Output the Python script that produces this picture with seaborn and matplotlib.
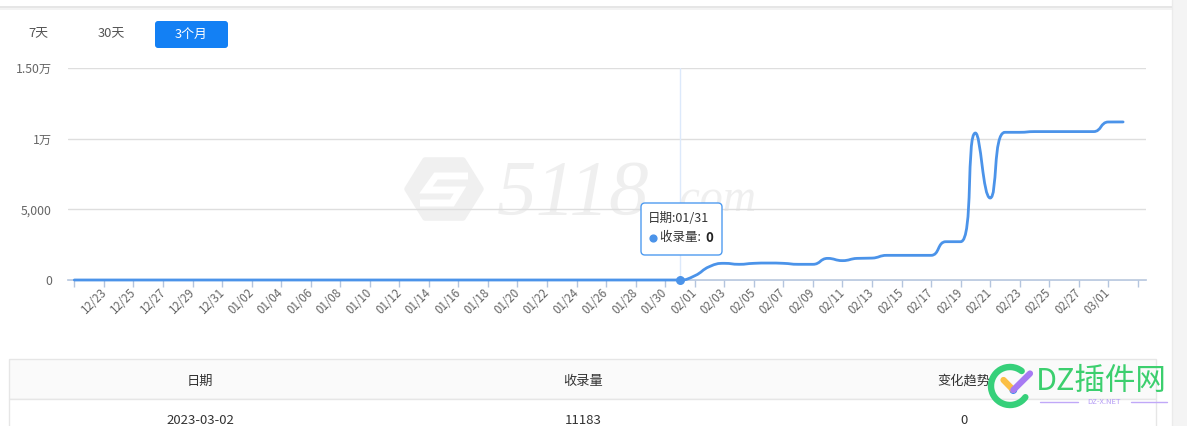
import numpy as np
import pandas as pd
import matplotlib
matplotlib.use("Agg")
import matplotlib.pyplot as plt
import seaborn as sns
from matplotlib.path import Path
from matplotlib.patches import PathPatch, FancyBboxPatch, Rectangle, Arc, Circle, Polygon

# ---------------- data ----------------
dates = ["12/21", "12/22", "12/23", "12/24", "12/25", "12/26", "12/27", "12/28", "12/29", "12/30", "12/31",
         "01/01", "01/02", "01/03", "01/04", "01/05", "01/06", "01/07", "01/08", "01/09", "01/10",
         "01/11", "01/12", "01/13", "01/14", "01/15", "01/16", "01/17", "01/18", "01/19", "01/20",
         "01/21", "01/22", "01/23", "01/24", "01/25", "01/26", "01/27", "01/28", "01/29", "01/30", "01/31",
         "02/01", "02/02", "02/03", "02/04", "02/05", "02/06", "02/07", "02/08", "02/09", "02/10",
         "02/11", "02/12", "02/13", "02/14", "02/15", "02/16", "02/17", "02/18", "02/19", "02/20",
         "02/21", "02/22", "02/23", "02/24", "02/25", "02/26", "02/27", "02/28", "03/01", "03/02", "03/03"]
values = [0, 0, 0, 0, 0, 0, 0, 0, 0, 0, 0,
          0, 0, 0, 0, 0, 0, 0, 0, 0, 0,
          0, 0, 0, 0, 0, 0, 0, 0, 0, 0,
          0, 0, 0, 0, 0, 0, 0, 0, 0, 0, 0,
          300, 950, 1180, 1110, 1180, 1200, 1180, 1110, 1110, 1530,
          1370, 1530, 1550, 1745, 1745, 1745, 1745, 2710, 2710, 10400,
          5800, 10450, 10450, 10500, 10500, 10500, 10500, 10500, 11180, 11183]
y_ticks = [0, 5000, 10000, 15000]
y_tick_labels = ["0", "5,000", "1万", "1.50万"]
tabs = ["7天", "30天", "3个月"]
table_headers = ["日期", "收录量", "变化趋势"]
table_row = ["2023-03-02", "11183", "0"]
highlight_index = 41  # 01/31

LINE = "#4b93e9"
AXIS = "#b4c5de"
W, H = 1187, 426

sns.set_theme(style="white")
plt.rcParams["font.family"] = ["Noto Sans CJK SC", "DejaVu Sans"]

fig = plt.figure(figsize=(W / 100, H / 100), dpi=100, facecolor="white")

bg = fig.add_axes([0, 0, 1, 1], zorder=0)
bg.set_xlim(0, W); bg.set_ylim(H, 0); bg.axis("off")

ax = fig.add_axes([68 / W, (H - 280) / H, (1146 - 68) / W, (280 - 68) / H], zorder=1)
ax.patch.set_alpha(0)

fg = fig.add_axes([0, 0, 1, 1], zorder=2)
fg.set_xlim(0, W); fg.set_ylim(H, 0); fg.axis("off"); fg.patch.set_alpha(0)

# ---------------- main chart ----------------
df = pd.DataFrame({"idx": np.arange(len(values)), "value": values})
sns.lineplot(data=df, x="idx", y="value", ax=ax, color=LINE, linewidth=2)
ax.set_xlim(-0.43, len(dates) - 1 + 0.55)
ax.set_ylim(y_ticks[0], y_ticks[-1])


def smooth_path(p, smooth=0.5):
    n = len(p)
    verts = [tuple(p[0])]
    codes = [Path.MOVETO]
    cp0 = p[0].copy()
    prev = p[0]
    for k in range(1, n):
        cur = p[k]
        if k < n - 1:
            nxt = p[k + 1]
            v = nxt - prev
            l0 = np.hypot(*(cur - prev))
            l1 = np.hypot(*(nxt - cur))
            r = l1 / (l0 + l1)
            ncp = cur + v * smooth * r
            ncp = np.minimum(ncp, np.maximum(nxt, cur))
            ncp = np.maximum(ncp, np.minimum(nxt, cur))
            vv = ncp - cur
            cp1 = cur - vv * l0 / l1
            cp1 = np.minimum(cp1, np.maximum(prev, cur))
            cp1 = np.maximum(cp1, np.minimum(prev, cur))
            vv = cur - cp1
            ncp = cur + vv * l1 / l0
        else:
            cp1 = cur.copy()
            ncp = cur.copy()
        verts += [tuple(cp0), tuple(cp1), tuple(cur)]
        codes += [Path.CURVE4] * 3
        cp0 = ncp
        prev = cur
    return np.array(verts), codes


line = ax.lines[0]
disp = ax.transData.transform(line.get_xydata())
verts, codes = smooth_path(disp)
path_data = Path(ax.transData.inverted().transform(verts), codes)
ax.add_patch(PathPatch(path_data, fill=False, edgecolor=LINE, lw=2,
                       capstyle="round", joinstyle="round", zorder=3, clip_on=False))
line.set_visible(False)

# axis pointer + highlighted point
ax.axvline(highlight_index, color="#dce9fb", lw=1, zorder=1)
pt = pd.DataFrame({"idx": [highlight_index], "value": [values[highlight_index]]})
sns.scatterplot(data=pt, x="idx", y="value", ax=ax, s=42,
                color=LINE, edgecolor=LINE, linewidth=0, zorder=6, legend=False, clip_on=False)

ax.set_yticks(y_ticks)
ax.set_yticklabels(y_tick_labels)
ax.yaxis.grid(True, color="#dedede", lw=1)
ax.xaxis.grid(False)
for s in ["top", "right", "left"]:
    ax.spines[s].set_visible(False)
ax.spines["bottom"].set_color(AXIS)
ax.spines["bottom"].set_linewidth(1.2)
ax.spines["bottom"].set_zorder(0.5)
ax.set_xlabel(""); ax.set_ylabel("")

tick_pos = list(range(0, len(dates), 2))
tick_labels = [dates[i] if 0 < i < len(dates) - 1 else "" for i in tick_pos]
ax.set_xticks(tick_pos)
ax.set_xticklabels(tick_labels)
ax.tick_params(axis="x", direction="out", length=5, width=1, color=AXIS, pad=3,
               labelsize=8.3, labelcolor="#666666", bottom=True)
for t in ax.get_xticklabels():
    t.set_rotation(45)
    t.set_ha("right")
    t.set_va("center")
    t.set_rotation_mode("anchor")
ax.tick_params(axis="y", length=0, pad=11.5, labelsize=8.8, labelcolor="#666666")

# ---------------- background decorations ----------------
bg.add_patch(Rectangle((0, 6), 1172, 2, color="#e6e6e6", lw=0))
bg.add_patch(Rectangle((0, 8), 1172, 1.5, color="#f3f3f3", lw=0))
bg.add_patch(Rectangle((1172, 0), 15, H, color="#f4f4f4", lw=0))
bg.plot([1172, 1172], [0, H], color="#ebebeb", lw=1)

# tabs
bg.add_patch(FancyBboxPatch((155, 21), 73, 27, boxstyle="round,pad=0,rounding_size=3",
                            fc="#1380f4", ec="none"))
bg.text(38, 34, tabs[0], ha="center", va="center", fontsize=9.3, color="#555555")
bg.text(111.5, 34, tabs[1], ha="center", va="center", fontsize=9.3, color="#555555")
bg.text(191.5, 34.5, tabs[2], ha="center", va="center", fontsize=9.3, color="white")

# 5118 watermark
hx, hy = 444, 189
hex_pts = [(hx - 37, hy), (hx - 19, hy - 29), (hx + 19, hy - 29), (hx + 37, hy),
           (hx + 19, hy + 29), (hx - 19, hy + 29)]
bg.add_patch(Polygon(hex_pts, closed=True, fc="#f0f0f0", ec="#f0f0f0", lw=4, joinstyle="round"))
bg.plot([468, 436, 426, 460, 452, 420], [176, 176, 190, 190, 203, 203],
        color="white", lw=5, solid_capstyle="butt", solid_joinstyle="miter")
bg.text(497, 214, "5118", fontsize=57, family="Liberation Serif", style="italic",
        color="#efefef", ha="left", va="baseline")
bg.text(668, 211, ".com", fontsize=33, family="Liberation Serif", style="italic",
        color="#efefef", ha="left", va="baseline")

# table
bg.add_patch(Rectangle((9, 359), 1147, 40, fc="#fafafa", ec="#e6e6e6", lw=1))
bg.add_patch(Rectangle((9, 399), 1147, 40, fc="white", ec="#e6e6e6", lw=1))
col_x = [200, 583, 964]
for cx, htxt, rtxt in zip(col_x, table_headers, table_row):
    bg.text(cx, 381, htxt, ha="center", va="center", fontsize=9.5, color="#333333")
    bg.text(cx, 420.5, rtxt, ha="center", va="center", fontsize=9.5, color="#333333")

# ---------------- foreground: tooltip + logo ----------------
fg.add_patch(FancyBboxPatch((641, 203), 81, 52, boxstyle="round,pad=0,rounding_size=4",
                            fc="white", ec="#4f9bf0", lw=1))
fg.text(648, 219, "日期:" + dates[highlight_index], fontsize=9, va="center", ha="left", color="#333333")
fg.add_patch(Circle((653.5, 238.5), 3.4, color=LINE))
fg.text(660, 238, "收录量: ", fontsize=9, va="center", ha="left", color="#333333")
fg.text(705, 238, str(values[highlight_index]), fontsize=9.5, va="center", ha="left",
        color="#222222", fontweight="bold")

# DZ logo
fg.add_patch(Arc((1010, 386), 38, 38, theta1=36, theta2=308, color="#36d07a", lw=4.6,
                 capstyle="round"))
fg.plot([1003.5, 1013.3], [380, 390], color="#fbbf45", lw=4.5, solid_capstyle="round")
fg.plot([1013.3, 1030], [390, 373.5], color="#a77bf3", lw=4.5, solid_capstyle="round")
fg.add_patch(Circle((1013.3, 390), 3.2, color="#2d7ff9"))
fg.text(1036, 381, "DZ插件网", fontsize=22, color="#3ccf6e", ha="left", va="center")
fg.plot([1040, 1078], [401.5, 401.5], color="#c0a8f8", lw=1)
fg.plot([1131, 1167], [401.5, 401.5], color="#c0a8f8", lw=1)
fg.text(1104.5, 402, "DZ-X.NET", fontsize=5.5, color="#b49bf5", ha="center", va="center")

fig.savefig("out.png", dpi=100, facecolor="white")
